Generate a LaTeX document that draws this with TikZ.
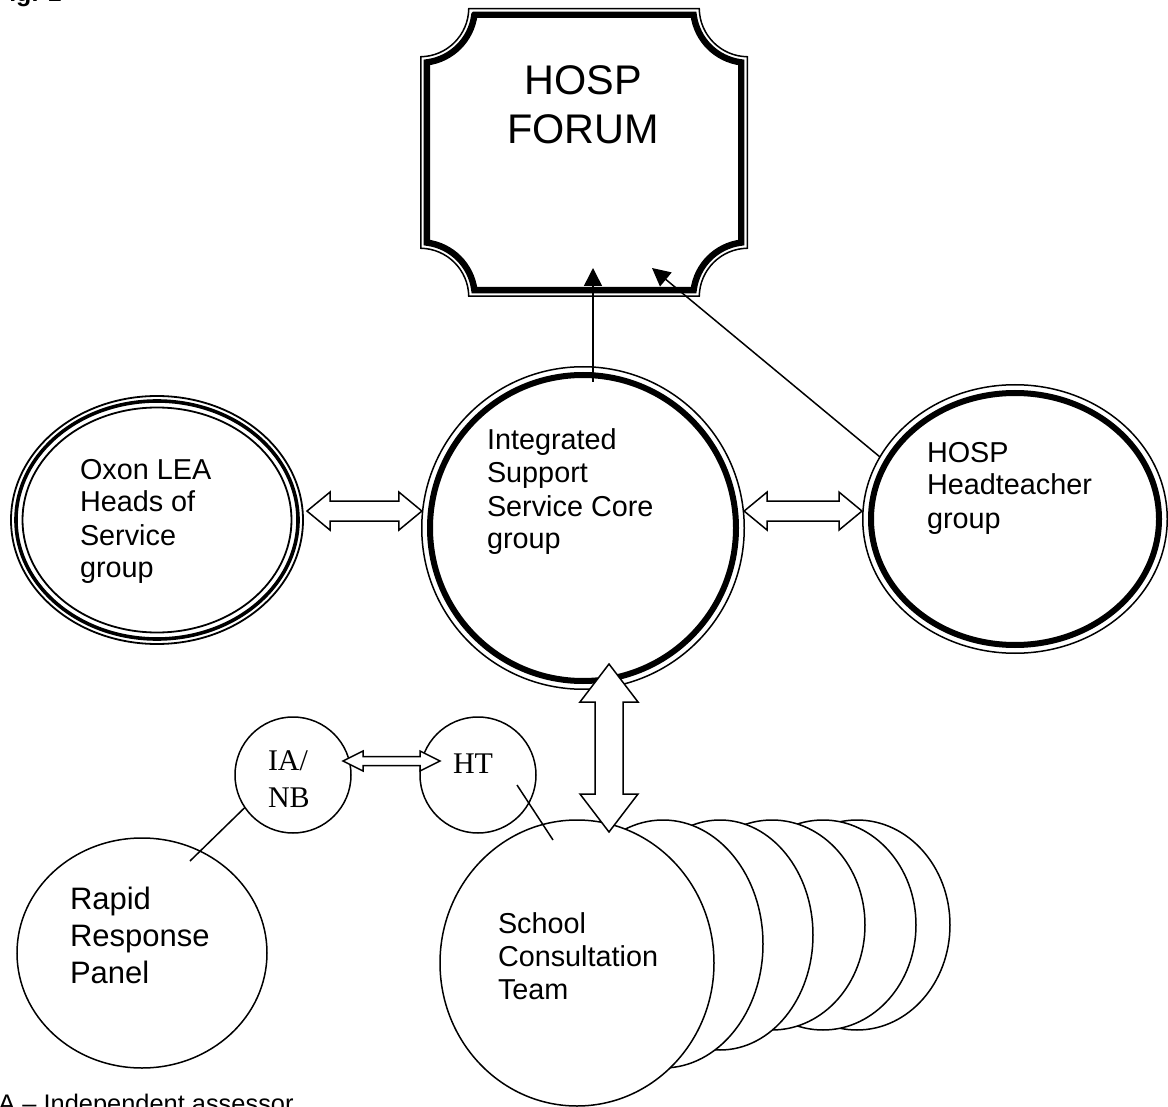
\documentclass[tikz,border=0pt]{standalone}
\usepackage{fontspec}
\setmainfont{Liberation Sans}
\newfontfamily\timesf{Liberation Serif}
\usetikzlibrary{calc,arrows.meta,shapes.geometric}

\newcommand\forumframe[2]{%
  \pgfmathsetmacro\Rr{48+#1}%
  \pgfmathsetmacro\tht{asin(#1/\Rr)}%
  \pgfmathsetmacro\ssq{sqrt(\Rr*\Rr-#1*#1)}%
  \draw[#2] (420+\ssq,-8-#1) -- (748-\ssq,-8-#1)
    arc[start angle=180+\tht, end angle=270-\tht, radius=\Rr]
    -- (748-#1,-297+\ssq)
    arc[start angle=90+\tht, end angle=180-\tht, radius=\Rr]
    -- (420+\ssq,-297+#1)
    arc[start angle=\tht, end angle=90-\tht, radius=\Rr]
    -- (420+#1,-8-\ssq)
    arc[start angle=270+\tht, end angle=360-\tht, radius=\Rr]
    -- cycle;}

% block double arrow: #1 tip A, #2 tip B, #3 shaft half width, #4 head half width, #5 head length
\newcommand\dblarr[5]{%
  \path ($(#1)!#5!(#2)$) coordinate (dab) ($(#2)!#5!(#1)$) coordinate (dbb);
  \draw[blockarr] (#1) -- ($(dab)!#4!90:(#2)$) -- ($(dab)!#3!90:(#2)$)
    -- ($(dbb)!#3!-90:(#1)$) -- ($(dbb)!#4!-90:(#1)$) -- (#2)
    -- ($(dbb)!#4!90:(#1)$) -- ($(dbb)!#3!90:(#1)$)
    -- ($(dab)!#3!-90:(#2)$) -- ($(dab)!#4!-90:(#2)$) -- cycle;}

\begin{document}
\begin{tikzpicture}[x=0.5pt,y=0.5pt,
  thinln/.style={line width=0.75pt},
  blockarr/.style={draw, fill=white, line width=0.75pt, line join=miter},
  shp/.style={inner sep=0pt, outer sep=0pt},
  bub/.style={ellipse, draw, fill=white, line width=0.75pt, inner sep=0pt, outer sep=0pt},
  lbl/.style={anchor=base west, inner sep=0pt, outer sep=0pt, font=\fontsize{14.4}{16.5}\selectfont},
  tlbl/.style={anchor=base west, inner sep=0pt, outer sep=0pt, font=\timesf\fontsize{15}{18.5}\selectfont},
  arr/.style={thinln, -{Triangle[width=9pt,length=9pt]}}]
\useasboundingbox (0,0) rectangle (1168,-1107);
\fill[white] (0,0) rectangle (1168,-1107);

% captions
\node[anchor=base east, inner sep=0pt, font=\bfseries\fontsize{12.5}{15}\selectfont] (fig) at (62,-2) {Fig. 1};
\node[anchor=base west, inner sep=0pt, font=\fontsize{12.7}{15}\selectfont] (note) at (-9,-1112) {IA -- Independent assessor};

% HOSP FORUM
\node[shp, rectangle, minimum width=164pt, minimum height=144.5pt] (forum) at (584,-152.5) {};
\forumframe{0.75}{line width=0.75pt}
\forumframe{6.8}{line width=3.2pt}
\node[anchor=base, inner sep=0pt, font=\fontsize{20.7}{24.5}\selectfont] (forumt) at (583,-95)
  {\begin{tabular}[t]{@{}c@{}}HOSP\\FORUM\end{tabular}};

% Integrated Support Service Core group
\node[shp, circle, minimum size=162pt] (iss) at (583,-528) {};
\draw[line width=0.75pt] (iss.center) circle[radius=161.25];
\draw[line width=3pt] (iss.center) circle[radius=153];
\node[lbl] (isst) at (487,-450) {\begin{tabular}[t]{@{}l@{}}Integrated\\Support\\Service Core\\group\end{tabular}};

% Oxon LEA
\node[shp, ellipse, minimum width=147pt, minimum height=125pt] (oxon) at (157,-520) {};
\draw[line width=0.9pt] (oxon.center) ellipse[x radius=146, y radius=124];
\draw[line width=1.8pt] (oxon.center) ellipse[x radius=141, y radius=119];
\draw[line width=0.9pt] (oxon.center) ellipse[x radius=134.5, y radius=112.5];
\node[lbl] (oxont) at (80,-479) {\begin{tabular}[t]{@{}l@{}}Oxon LEA\\Heads of\\Service\\group\end{tabular}};

% HOSP Headteacher group
\node[shp, ellipse, minimum width=153pt, minimum height=135pt] (hosp) at (1015,-519) {};
\draw[line width=0.75pt] (hosp.center) ellipse[x radius=152.25, y radius=134.25];
\draw[line width=3pt] (hosp.center) ellipse[x radius=144, y radius=126];
\node[lbl] (hospt) at (927,-462) {\begin{tabular}[t]{@{}l@{}}HOSP\\Headteacher\\group\end{tabular}};

% School consultation team stack
\node[bub, minimum width=93pt, minimum height=105pt] (c6) at (857,-925) {};
\node[bub, minimum width=93pt, minimum height=105pt] (c5) at (823,-925) {};
\node[bub, minimum width=93pt, minimum height=105pt] (c4) at (772,-925) {};
\node[bub, minimum width=93pt, minimum height=115pt] (c3) at (720,-935) {};
\node[bub, minimum width=100pt, minimum height=124pt] (c2) at (663,-944) {};
\node[bub, minimum width=137pt, minimum height=143pt] (cons) at (577,-963) {};
\node[lbl] (const) at (498,-933) {\begin{tabular}[t]{@{}l@{}}School\\Consultation\\Team\end{tabular}};

% Rapid Response Panel
\node[bub, minimum width=125pt, minimum height=115pt] (rapid) at (142,-953) {};
\node[lbl, font=\fontsize{15.5}{18.5}\selectfont] (rapidt) at (70,-909) {\begin{tabular}[t]{@{}l@{}}Rapid\\Response\\Panel\end{tabular}};

% IA/NB and HT
\node[bub, circle, minimum size=58pt] (ianb) at (293,-775) {};
\node[tlbl] (ianbt) at (268,-770) {\begin{tabular}[t]{@{}l@{}}IA/\\NB\end{tabular}};
\node[bub, circle, minimum size=58pt] (ht) at (478,-775) {};
\node[tlbl] (htt) at (453,-773) {HT};

% plain connectors
\draw[thinln] (ianb.214) -- ($(rapid.north)+(48,-23)$);
\draw[thinln] ($(ht.center)+(39,-10)$) -- ($(cons.north)+(-24,-20)$);

% arrows to the forum
\draw[arr] ($(iss.north)+(10,-16)$) -- ($(forum.south)+(9,29)$);
\draw[arr] ($(hosp.center)+(-135,62)$) -- ($(forum.south)+(68,29)$);

% block double arrows
\coordinate (la) at ($(iss.174 -| oxon.east)+(3,0)$);
\coordinate (lb) at (iss.174);
\dblarr{la}{lb}{5pt}{9.5pt}{11.5pt}
\coordinate (ra) at (iss.6);
\coordinate (rb) at (iss.6 -| hosp.west);
\dblarr{ra}{rb}{5pt}{9.5pt}{11.5pt}
\coordinate (va) at ($(iss.south)+(26,26)$);
\coordinate (vb) at ($(va |- cons.north)+(0,-12)$);
\dblarr{va}{vb}{7pt}{14.5pt}{19pt}
\coordinate (sa) at ($(ianb.center)+(50,14)$);
\coordinate (sb) at ($(ht.center)+(-38,14)$);
\dblarr{sa}{sb}{2.25pt}{5pt}{10pt}
\end{tikzpicture}
\end{document}
